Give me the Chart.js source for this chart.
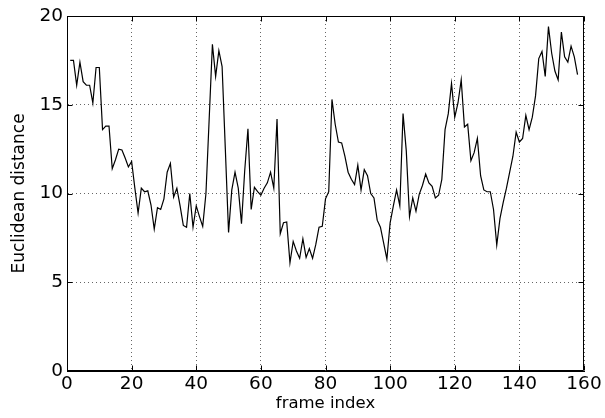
<!DOCTYPE html>
<html>
<head>
<meta charset="utf-8">
<script src="https://cdn.jsdelivr.net/npm/chart.js@4.4.0/dist/chart.umd.min.js"></script>
<style>
  html, body { margin: 0; padding: 0; background: #fff; }
  #wrap { width: 605px; height: 418px; position: relative; }
</style>
</head>
<body>
<div id="wrap"><canvas id="c" width="605" height="418"></canvas></div>
<script>
// ---- data ----
const frames = [
  1,2,3,4,5,6,7,8,9,10,11,12,13,14,15,16,17,18,19,20,
  21,22,23,24,25,26,27,28,29,30,31,32,33,34,35,36,37,38,39,40,
  41,42,43,44,45,46,47,48,49,50,51,52,53,54,55,56,57,58,59,60,
  61,62,63,64,65,66,67,68,69,70,71,72,73,74,75,76,77,78,79,80,
  81,82,83,84,85,86,87,88,89,90,91,92,93,94,95,96,97,98,99,100,
  101,102,103,104,105,106,107,108,109,110,111,112,113,114,115,116,117,118,119,120,
  121,122,123,124,125,126,127,128,129,130,131,132,133,134,135,136,137,138,139,140,
  141,142,143,144,145,146,147,148,149,150,151,152,153,154,155,156,157,158
];
const distances = [
  17.5,17.5,16.1,17.4,16.3,16.1,16.1,15.1,17.1,17.1,
  13.6,13.8,13.8,11.4,11.9,12.5,12.45,12.0,11.5,11.8,
  10.3,8.9,10.3,10.1,10.15,9.35,8.0,9.2,9.1,9.7,
  11.2,11.7,9.8,10.3,9.3,8.2,8.1,10.0,8.1,9.3,
  8.7,8.15,10.0,14.2,18.4,16.6,18.05,17.15,12.5,7.8,
  10.2,11.2,10.3,8.3,11.3,13.65,9.1,10.35,10.1,9.9,
  10.3,10.6,11.2,10.3,14.2,7.73,8.35,8.4,6.1,7.3,
  6.76,6.35,7.45,6.4,6.9,6.35,7.13,8.1,8.15,9.7,
  10.1,15.3,13.9,12.9,12.85,12.1,11.2,10.8,10.5,11.6,
  10.2,11.35,11.0,10.0,9.75,8.5,8.1,7.2,6.3,8.35,
  9.3,10.2,9.3,14.5,12.4,8.7,9.75,9.0,9.95,10.45,
  11.1,10.6,10.4,9.75,9.9,10.8,13.6,14.5,16.2,14.3,
  15.1,16.4,13.75,13.9,11.85,12.3,13.1,11.0,10.2,10.1,
  10.1,9.1,7.1,8.6,9.5,10.3,11.2,12.1,13.45,12.9,
  13.1,14.4,13.6,14.3,15.5,17.6,18.0,16.6,19.4,17.9,
  16.9,16.4,19.1,17.7,17.4,18.3,17.7,16.7
];
const xTicks = [0,20,40,60,80,100,120,140,160];
const yTicks = [0,5,10,15,20];
const xTitle = 'frame index';
const yTitle = 'Euclidean distance';

// ---- chart ----
const FONT = 'DejaVu Sans';
const points = frames.map((f, i) => ({ x: f, y: distances[i] }));

const boxAndTicks = {
  id: 'boxAndTicks',
  afterDraw(chart) {
    const { ctx, chartArea: a, scales } = chart;
    const L = Math.round(a.left) + 0.5, R = Math.round(a.right) - 0.5;
    const T = Math.round(a.top) + 0.5, B = Math.round(a.bottom) - 0.5;
    ctx.save();
    ctx.strokeStyle = '#000';
    ctx.lineWidth = 1;
    ctx.setLineDash([]);
    ctx.beginPath();
    ctx.rect(L, T, R - L, B - T);
    const tl = 5;
    xTicks.forEach(v => {
      const px = Math.round(scales.x.getPixelForValue(v)) + 0.5;
      ctx.moveTo(px, B); ctx.lineTo(px, B - tl);
      ctx.moveTo(px, T); ctx.lineTo(px, T + tl);
    });
    yTicks.forEach(v => {
      const py = Math.round(scales.y.getPixelForValue(v)) + 0.5;
      ctx.moveTo(L, py); ctx.lineTo(L + tl, py);
      ctx.moveTo(R, py); ctx.lineTo(R - tl, py);
    });
    ctx.stroke();
    ctx.restore();
  }
};

new Chart(document.getElementById('c'), {
  type: 'line',
  data: {
    datasets: [{
      data: points,
      borderColor: '#000',
      borderWidth: 1.2,
      pointRadius: 0,
      tension: 0,
      fill: false
    }]
  },
  options: {
    responsive: false,
    animation: false,
    devicePixelRatio: 1,
    layout: { padding: { left: 0, right: 21, top: 16, bottom: 0 } },
    plugins: { legend: { display: false }, tooltip: { enabled: false } },
    scales: {
      x: {
        type: 'linear',
        min: 0, max: 160,
        afterBuildTicks(scale) { scale.ticks = xTicks.map(v => ({ value: v })); },
        afterFit(scale) { scale.height = 47; },
        ticks: {
          color: '#000', padding: 2, maxRotation: 0, autoSkip: false,
          font: { family: FONT, size: 18.5 }
        },
        grid: { color: '#666', lineWidth: 1, drawTicks: false },
        border: { display: true, color: '#000', dash: [1, 3] },
        title: {
          display: true, text: xTitle, color: '#000',
          font: { family: FONT, size: 16.5 },
          padding: { top: 0, bottom: 4 }
        }
      },
      y: {
        type: 'linear',
        min: 0, max: 20,
        afterBuildTicks(scale) { scale.ticks = yTicks.map(v => ({ value: v })); },
        afterFit(scale) { scale.width = 67; },
        ticks: {
          color: '#000', padding: 4,
          font: { family: FONT, size: 18.5 }
        },
        grid: { color: '#666', lineWidth: 1, drawTicks: false },
        border: { display: true, color: '#000', dash: [1, 3] },
        title: {
          display: true, text: yTitle, color: '#000',
          font: { family: FONT, size: 17 },
          padding: { top: 9, bottom: 0 }
        }
      }
    }
  },
  plugins: [boxAndTicks]
});
</script>
</body>
</html>
